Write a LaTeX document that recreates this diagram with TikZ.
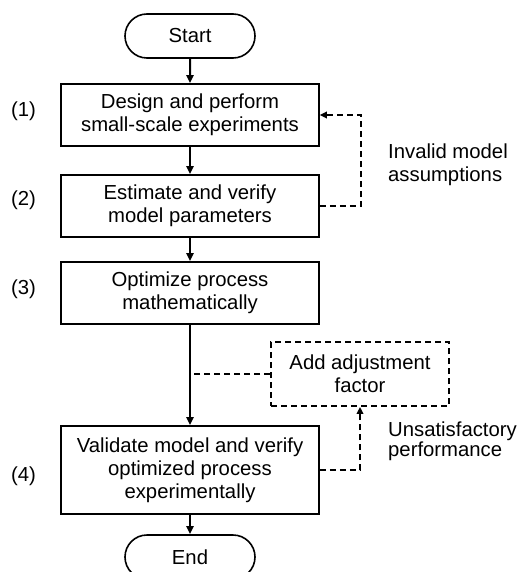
\documentclass[tikz,border=0pt]{standalone}
\usepackage{fontspec}
\setmainfont{Liberation Sans}
\usetikzlibrary{arrows.meta,shapes.misc}
\begin{document}
\begin{tikzpicture}[x=1pt,y=-1pt,
  txt/.style={font=\fontsize{20.3}{23}\selectfont},
  box/.style={txt,draw,line width=1.6pt,minimum width=258pt,inner sep=0pt,align=center},
  term/.style={txt,draw,rounded rectangle,line width=1.6pt,minimum width=130pt,minimum height=44pt,inner sep=0pt},
  lbl/.style={txt,align=left,inner sep=0pt},
  num/.style={txt,inner sep=0pt},
  arr/.style={draw=black,line width=2pt,-{Triangle[length=8pt,width=7pt]}},
  fb/.style={line width=1.8pt,dash pattern=on 6pt off 4pt}
]
\useasboundingbox (0,0) rectangle (519,572);
\clip (0,0) rectangle (519,572);
\node[term] (start) at (190,36) {Start};
\node[box,minimum height=62pt] (b1) at (190,115) {Design and perform\\small-scale experiments};
\node[box,minimum height=62pt] (b2) at (190,206) {Estimate and verify\\model parameters};
\node[box,minimum height=62pt] (b3) at (190,293) {Optimize process\\mathematically};
\node[box,fb,minimum width=178pt,minimum height=64pt] (adj) at (360,374) {Add adjustment\\factor};
\node[box,minimum height=88pt] (b4) at (190,470) {Validate model and verify\\optimized process\\experimentally};
\node[term] (end) at (190,557) {End};
\node[num] (n1) at (23.5,111) {(1)};
\node[num] (n2) at (23.5,200) {(2)};
\node[num] (n3) at (23.5,289) {(3)};
\node[num] (n4) at (23.5,476) {(4)};
\node[lbl,anchor=west] (inv) at (388,165) {Invalid model\\assumptions};
\node[lbl,anchor=west,font=\fontsize{20.3}{20}\selectfont] (uns) at (388,441) {Unsatisfactory\\performance};
\draw[arr] (start) -- (b1);
\draw[arr] (b1) -- (b2);
\draw[arr] (b2) -- (b3);
\draw[arr] (b3) -- (b4);
\draw[arr] (b4) -- (end);
\draw[fb,-{Triangle[length=7pt,width=6.5pt]}] (b2.east) -- ++(41,0) |- (b1.east);
\draw[fb,-{Triangle[length=7pt,width=6.5pt]}] (b4.east) -| (adj.south);
\draw[fb] (adj.west) -- (b3.south |- adj.west);
\end{tikzpicture}
\end{document}
